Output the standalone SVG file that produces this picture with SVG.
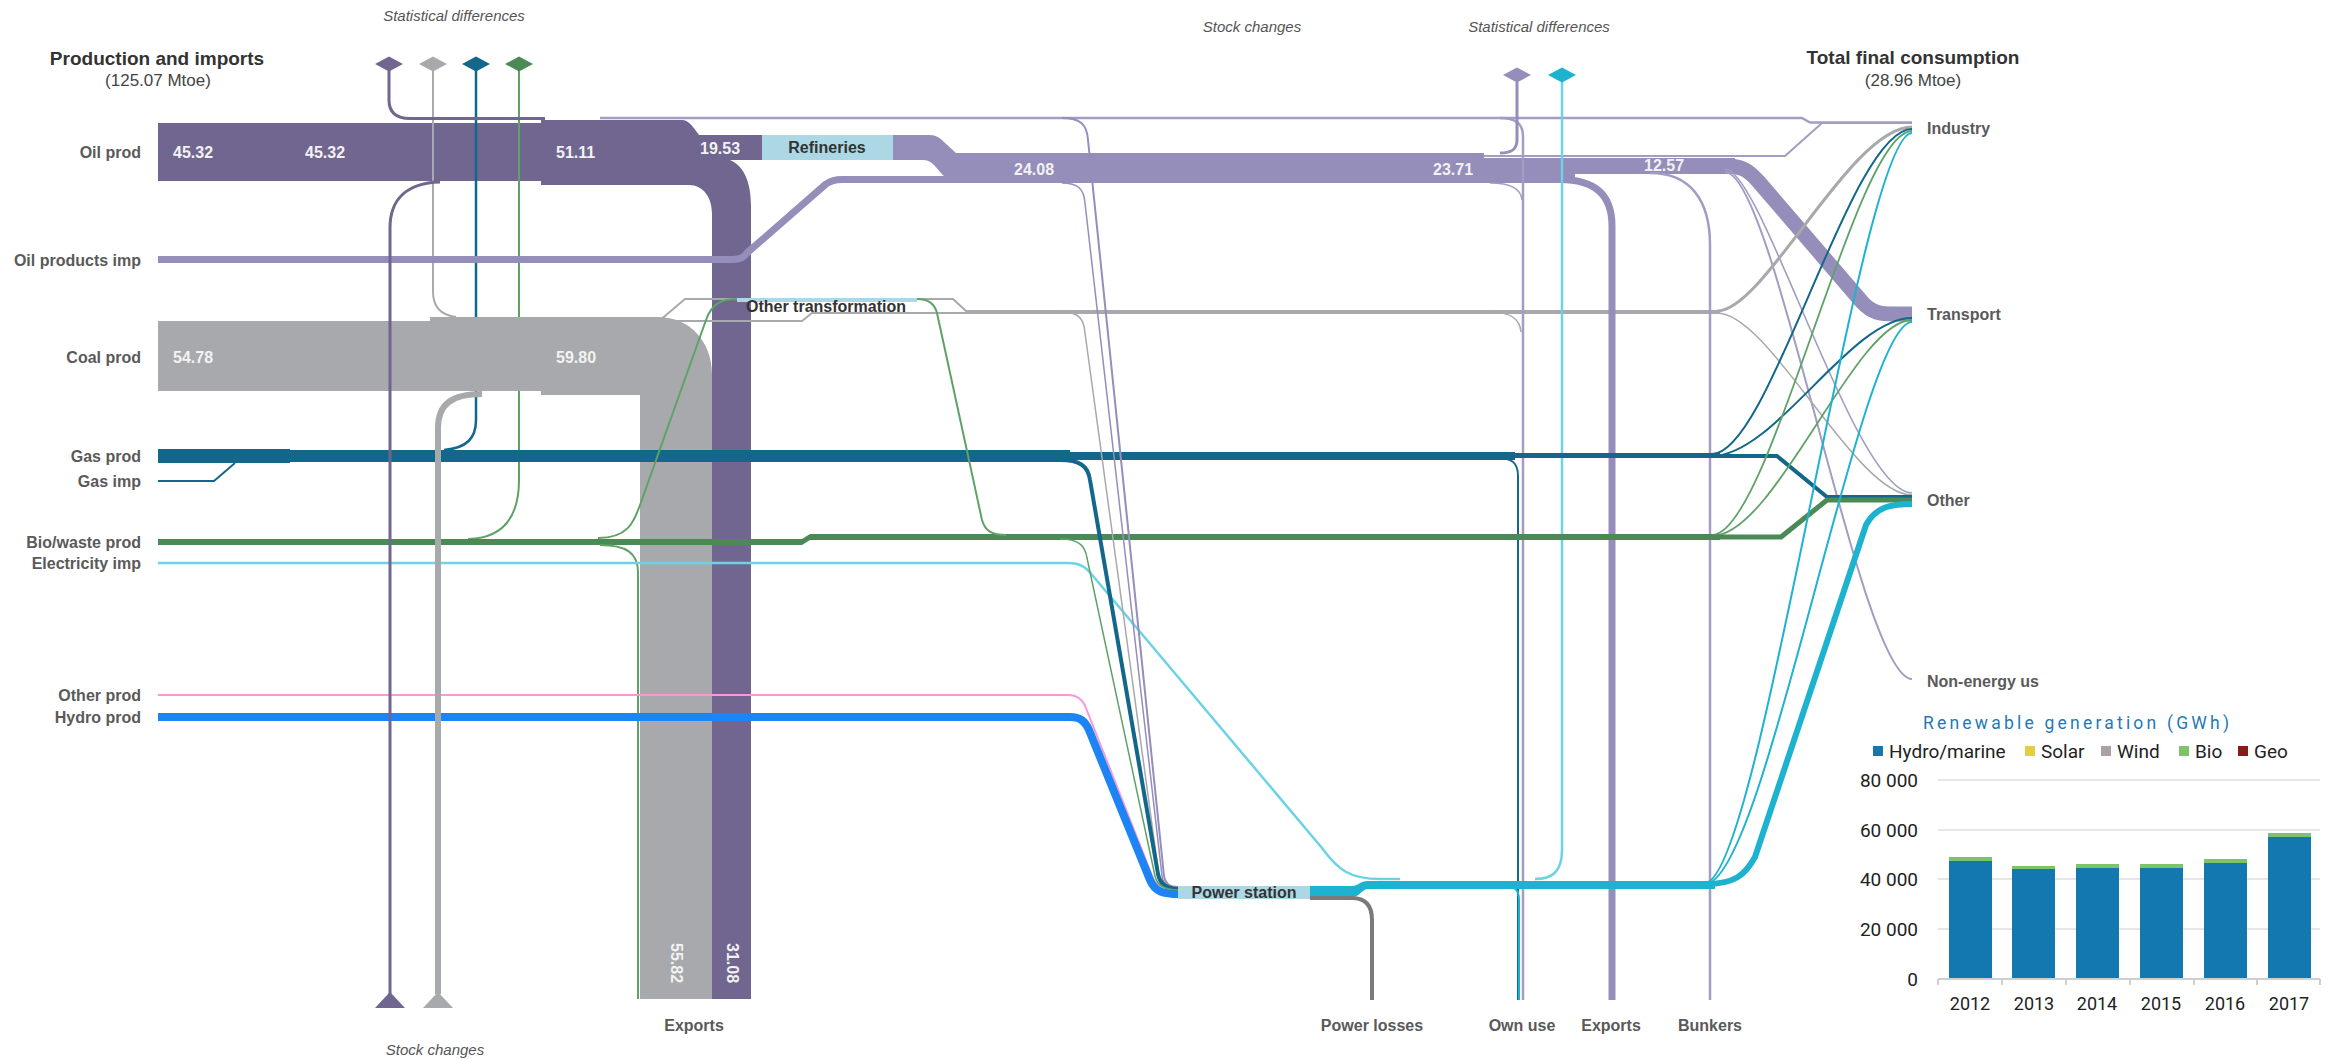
<svg xmlns="http://www.w3.org/2000/svg" width="2328" height="1059" viewBox="0 0 2328 1059">
<style>
  text { font-family: "Liberation Sans", Arial, sans-serif; }
  .lbl { font-size: 16px; font-weight: bold; fill: #5a5a5a; }
  .end { text-anchor: end; }
  .mid { text-anchor: middle; }
  .ttl { font-size: 19px; font-weight: bold; fill: #333; text-anchor: middle; }
  .sub { font-size: 17px; fill: #444; text-anchor: middle; }
  .ital { font-size: 15px; font-style: italic; fill: #555; text-anchor: middle; }
  .val { font-size: 16px; font-weight: bold; fill: #f2f2f2; }
  .node { font-size: 16px; font-weight: bold; fill: #333; text-anchor: middle; }
  .f { fill: none; stroke-linejoin: round; }
  .oil { stroke: #70668f; }
  .oilp { stroke: #958dba; }
  .oilt { stroke: #a39cc3; }
  .coal { stroke: #a8a9ac; }
  .gas { stroke: #13678a; }
  .bio { stroke: #4b8a55; }
  .biot { stroke: #5fa267; }
  .elec { stroke: #1db3d0; }
  .eimp { stroke: #6cd2e6; }
  .hydro { stroke: #1d84f5; }
  .pink { stroke: #f49ad6; }
  .nodebox { fill: #acd8e6; }
  .chart text { font-family: Roboto, "Liberation Sans", sans-serif; fill: #222; }
  .grid { stroke: #e6e6e6; stroke-width: 2; }
</style>

<!-- headings -->
<g id="headings">
  <text class="ttl" x="157" y="65">Production and imports</text>
  <text class="sub" x="158" y="86">(125.07 Mtoe)</text>
  <text class="ttl" x="1913" y="64">Total final consumption</text>
  <text class="sub" x="1913" y="86">(28.96 Mtoe)</text>
  <text class="ital" x="454" y="21">Statistical differences</text>
  <text class="ital" x="1252" y="32">Stock  changes</text>
  <text class="ital" x="1539" y="32">Statistical differences</text>
  <text class="ital" x="435" y="1055">Stock changes</text>
</g>

<!-- flows -->
<g id="connectors">
  <!-- crude oil: production band, split to refineries and exports -->
  <path fill="#70668f" d="M158,123 H541 V120 H682 C689,120 693,127 699,135 H762 V160 H730 C744,166 751,182 751,206 V999 H712 V214 C712,197 703,185 689,185 H541 V181 H158 Z"/>

  <!-- statistical-difference feeders (run beneath the coal band) -->
  <path class="f coal" stroke-width="2" d="M433,70 V292 C433,306 440,315 456,317"/>
  <path class="f gas" stroke-width="2.5" d="M476,70 V420 C476,438 467,448 444,450"/>
  <path class="f biot" stroke-width="2" d="M519,70 V480 C519,515 505,538 468,539"/>

  <!-- coal: production band and exports -->
  <path fill="#a8a9ac" d="M158,321 H430 V317 H658 C690,317 712,342 712,374 V999 H640 V395 H541 V391 H158 Z"/>

  <!-- oil statistical difference and top thin oil line -->
  <path class="f oil" stroke-width="3" d="M389,70 V100 C389,112 396,118.5 410,118.5 H545"/>
  <path class="f oilt" stroke-width="2.5" d="M600,118 H1802 L1810,122.5 H1912"/>

  <!-- coal to other transformation (outlined) -->
  <path class="f coal" stroke-width="2" d="M610,318.5 H662 L685,299 H953 L966,311 H1720"/>
  <path class="f coal" stroke-width="2" d="M662,321 H802 L812,313 H1720"/>

  <!-- oil products: imports and refinery output -->
  <path class="f oilp" stroke-width="7" d="M158,259.5 H733 C741,259.5 744,257 748,252 L826,184 C831,180.5 835,179.5 842,179.5 H960"/>
  <path fill="#958dba" d="M893,135 H930 C936,135 940,138 944,142 L956,153 H1484 V158 H1735 V174 H1575 V183 H950 L934,165 C930,161 927,160 922,160 H893 Z"/>
  <path class="f oilp" stroke-width="7" d="M1560,179.5 C1595,179.5 1612,195 1612,226 V1000"/>
  <path class="f oilp" stroke-width="15" d="M1725,166 C1742,166 1748,170 1758,181 L1862,302 C1872,313 1880,314 1895,314 H1912"/>
  <path class="f oilt" stroke-width="2" d="M1484,156 H1785 L1822,123 H1912"/>
  <path class="f oilt" stroke-width="2.5" d="M1650,173 C1690,173 1710,200 1710,245 V1000"/>
  <path class="f oilt" stroke-width="1.6" d="M1725,169 C1762,169 1855,493 1912,493"/>
  <path class="f oilt" stroke-width="2" d="M1725,172 C1775,172 1860,679 1912,679"/>

  <!-- own use -->
  <path class="f oilt" stroke-width="2.5" d="M1500,118 C1515,118 1523,123 1523,136 V1000"/>
  <path class="f oilt" stroke-width="1.5" d="M1490,183 C1510,183 1521,188 1522,200"/>
  <path class="f coal" stroke-width="1.5" d="M1490,312 C1510,312 1520,318 1521,332"/>
  <path class="f gas" stroke-width="2" d="M1498,458 C1512,458 1518,463 1518,476 V1000"/>

  <!-- right-hand statistical differences -->
  <path class="f oilp" stroke-width="3" d="M1517,82 V140 C1517,149 1512,153 1500,153"/>
  <path class="f eimp" stroke-width="2.5" d="M1562,82 V850 C1562,872 1552,879 1535,879"/>

  <!-- gas -->
  <path fill="#13678a" d="M158,449 H290 V450 H1070 V452 H1515 V453 H1720 V458 H1515 V460 H1070 V462 H290 V463 H158 Z"/>
  <path class="f gas" stroke-width="2" d="M158,481 H214 L235,463"/>

  <!-- bio/waste -->
  <path fill="#4b8a55" d="M158,539 H802 L810,534 H1720 V540 H810 L802,545 H158 Z"/>
  <path class="f biot" stroke-width="2" d="M600,545 C626,545 638,553 638,572 V999"/>
  <path class="f biot" stroke-width="2" d="M598,538 C628,538 634,522 640,505 L706,320 C712,303 722,299 737,299"/>
  <path class="f biot" stroke-width="2" d="M917,299 C930,299 935,305 937,313 L982,520 C985,531 992,535 1006,535"/>

  <!-- electricity imports -->
  <path class="f eimp" stroke-width="2.5" d="M158,563 H1068 C1080,563 1086,567 1093,576 L1322,848 C1338,870 1350,879 1380,879 H1400"/>

  <!-- other and hydro production -->
  <path class="f pink" stroke-width="2" d="M158,695 H1068 C1078,695 1083,700 1086,708 L1153,878 C1156,886 1164,889 1178,889"/>
  <path class="f hydro" stroke-width="8" d="M158,717 H1070 C1080,717 1085,721 1089,730 L1150,880 C1155,892 1163,894 1180,894"/>

  <!-- inputs into the power station -->
  <path class="f oilp" stroke-width="2" d="M1062,118 C1080,118 1087,124 1088,140 L1164,876 C1165,884 1170,887 1178,887"/>
  <path class="f oilp" stroke-width="1.5" d="M1062,183 C1078,183 1084,189 1085,203 L1162,876 C1163,884 1168,888 1178,888"/>
  <path class="f coal" stroke-width="1.5" d="M1062,312 C1078,312 1084,318 1085,333 L1159,876 C1160,884 1166,888 1178,888"/>
  <path class="f gas" stroke-width="4" d="M1060,460 C1080,460 1088,466 1090,480 L1158,874 C1160,884 1166,889 1178,889"/>
  <path class="f biot" stroke-width="1.5" d="M1060,539 C1078,539 1085,545 1087,558 L1155,876 C1157,885 1164,890 1178,890"/>

  <!-- power station outputs -->
  <path fill="#1db3d0" d="M1310,886 H1352 C1358,886 1360,881 1368,881 H1715 V889 H1368 C1362,889 1360,897 1352,897 H1310 Z"/>
  <path class="f" stroke="#7a7a7a" stroke-width="4" d="M1310,898 H1352 C1366,898 1372,906 1372,920 V1000"/>
  <path class="f elec" stroke-width="2" d="M1505,886 C1515,886 1519,890 1519,900 V1000"/>

  <!-- stock changes -->
  <path class="f oil" stroke-width="3" d="M440,182 C406,183 390,200 390,228 V994"/>
  <path class="f coal" stroke-width="6" d="M482,394 C452,394 438,404 438,428 V994"/>

  <!-- final consumption fan -->
  <path class="f coal" stroke-width="3" d="M1717,311 C1765,311 1850,127 1912,127"/>
  <path class="f coal" stroke-width="1.5" d="M1717,313 C1770,313 1855,495 1912,495"/>
  <path class="f gas" stroke-width="2" d="M1712,454 C1770,454 1850,129 1912,129"/>
  <path class="f gas" stroke-width="2" d="M1712,456 C1775,456 1850,318 1912,318"/>
  <path class="f gas" stroke-width="4" d="M1712,456 H1777 L1827,497 H1912"/>
  <path class="f biot" stroke-width="1.8" d="M1712,535 C1770,535 1855,131 1912,131"/>
  <path class="f biot" stroke-width="1.8" d="M1712,536 C1775,536 1855,320 1912,320"/>
  <path class="f bio" stroke-width="5" d="M1712,537 H1781 L1827,500 H1912"/>
  <path class="f elec" stroke-width="2" d="M1705,883 C1760,883 1860,133 1912,133"/>
  <path class="f elec" stroke-width="2" d="M1705,884 C1765,884 1860,322 1912,322"/>
  <path class="f elec" stroke-width="6" d="M1705,884 C1735,884 1745,875 1755,857 L1866,525 C1876,507 1890,504 1912,504"/>
</g>

<!-- statistical difference markers -->
<g id="stat-diff-left">
  <polygon fill="#70668f" points="375,64 389,56.5 403,64 389,71.5"/>
  <polygon fill="#a8a9ac" points="419,64 433,56.5 447,64 433,71.5"/>
  <polygon fill="#13678a" points="462,64 476,56.5 490,64 476,71.5"/>
  <polygon fill="#4b8a55" points="505,64 519,56.5 533,64 519,71.5"/>
</g>
<g id="stat-diff-right">
  <polygon fill="#958dba" points="1503,75 1517,67.5 1531,75 1517,82.5"/>
  <polygon fill="#1db3d0" points="1548,75 1562,67.5 1576,75 1562,82.5"/>
</g>
<g id="stock-changes-markers">
  <polygon fill="#70668f" points="390,992 375,1008 405,1008"/>
  <polygon fill="#a8a9ac" points="438,992 423,1008 453,1008"/>
</g>

<!-- sources -->
<g id="src-oil"><text class="lbl end" x="141" y="158">Oil prod</text></g>
<g id="src-oil-products"><text class="lbl end" x="141" y="266">Oil products imp</text></g>
<g id="src-coal"><text class="lbl end" x="141" y="363">Coal prod</text></g>
<g id="src-gas"><text class="lbl end" x="141" y="462">Gas prod</text></g>
<g id="src-gas-imp"><text class="lbl end" x="141" y="487">Gas imp</text></g>
<g id="src-bio"><text class="lbl end" x="141" y="548">Bio/waste prod</text></g>
<g id="src-elec-imp"><text class="lbl end" x="141" y="569">Electricity imp</text></g>
<g id="src-other"><text class="lbl end" x="141" y="701">Other prod</text></g>
<g id="src-hydro"><text class="lbl end" x="141" y="723">Hydro prod</text></g>

<!-- flow values -->
<g id="values">
  <text class="val" x="173" y="158">45.32</text>
  <text class="val" x="305" y="158">45.32</text>
  <text class="val" x="556" y="158">51.11</text>
  <text class="val" x="700" y="154">19.53</text>
  <text class="val" x="173" y="363" fill="#eeeeee">54.78</text>
  <text class="val" x="556" y="363">59.80</text>
  <text class="val" x="1014" y="175">24.08</text>
  <text class="val" x="1433" y="175">23.71</text>
  <text class="val" x="1644" y="171">12.57</text>
  <text class="val mid" transform="translate(676,963) rotate(90)" dy="5">55.82</text>
  <text class="val mid" transform="translate(732,963) rotate(90)" dy="5">31.08</text>
</g>

<!-- transformation nodes -->
<g id="node-refineries">
  <rect class="nodebox" x="762" y="135" width="131" height="25"/>
  <text class="node" x="827" y="153">Refineries</text>
</g>
<g id="node-other-transformation">
  <rect class="nodebox" x="737" y="298" width="180" height="4"/>
  <text class="node" x="826" y="312">Other transformation</text>
</g>
<g id="node-power-station">
  <rect class="nodebox" x="1178" y="886" width="132" height="13"/>
  <text class="node" x="1244" y="898">Power station</text>
</g>

<!-- sinks -->
<g id="sink-exports-left"><text class="lbl mid" x="694" y="1031">Exports</text></g>
<g id="sink-power-losses"><text class="lbl mid" x="1372" y="1031">Power losses</text></g>
<g id="sink-own-use"><text class="lbl mid" x="1522" y="1031">Own use</text></g>
<g id="sink-exports-right"><text class="lbl mid" x="1611" y="1031">Exports</text></g>
<g id="sink-bunkers"><text class="lbl mid" x="1710" y="1031">Bunkers</text></g>
<g id="sink-industry"><text class="lbl" x="1927" y="134">Industry</text></g>
<g id="sink-transport"><text class="lbl" x="1927" y="320">Transport</text></g>
<g id="sink-other"><text class="lbl" x="1927" y="506">Other</text></g>
<g id="sink-non-energy"><text class="lbl" x="1927" y="687">Non-energy us</text></g>

<!-- renewable generation chart -->
<g id="renewables-chart" class="chart">
  <text x="1923" y="729" textLength="306" lengthAdjust="spacing" style="font-size:17.5px;fill:#1f7ab3">Renewable generation (GWh)</text>
  <rect x="1873" y="746" width="10" height="10" fill="#1478b0"/>
  <text x="1889" y="758" style="font-size:19px">Hydro/marine</text>
  <rect x="2025" y="746" width="10" height="10" fill="#e3cf3d"/>
  <text x="2041" y="758" style="font-size:19px">Solar</text>
  <rect x="2101" y="746" width="10" height="10" fill="#a9a1a6"/>
  <text x="2117" y="758" style="font-size:19px">Wind</text>
  <rect x="2179" y="746" width="10" height="10" fill="#7cc36a"/>
  <text x="2195" y="758" style="font-size:19px">Bio</text>
  <rect x="2238" y="746" width="10" height="10" fill="#8b1a1a"/>
  <text x="2254" y="758" style="font-size:19px">Geo</text>

  <line class="grid" x1="1938" y1="780" x2="2320" y2="780"/>
  <line class="grid" x1="1938" y1="830" x2="2320" y2="830"/>
  <line class="grid" x1="1938" y1="879" x2="2320" y2="879"/>
  <line class="grid" x1="1938" y1="929" x2="2320" y2="929"/>

  <g style="font-size:19px" text-anchor="end">
    <text x="1918" y="787">80 000</text>
    <text x="1918" y="837">60 000</text>
    <text x="1918" y="886">40 000</text>
    <text x="1918" y="936">20 000</text>
    <text x="1918" y="986">0</text>
  </g>

  <g id="bars">
    <rect x="1949" y="857" width="43" height="5" fill="#7cc36a"/>
    <rect x="1949" y="861" width="43" height="118" fill="#1478b0"/>
    <rect x="2012" y="866" width="43" height="4" fill="#7cc36a"/>
    <rect x="2012" y="869" width="43" height="110" fill="#1478b0"/>
    <rect x="2076" y="864" width="43" height="5" fill="#7cc36a"/>
    <rect x="2076" y="868" width="43" height="111" fill="#1478b0"/>
    <rect x="2140" y="864" width="43" height="5" fill="#7cc36a"/>
    <rect x="2140" y="868" width="43" height="111" fill="#1478b0"/>
    <rect x="2204" y="859" width="43" height="5" fill="#7cc36a"/>
    <rect x="2204" y="863" width="43" height="116" fill="#1478b0"/>
    <rect x="2268" y="833" width="43" height="5" fill="#7cc36a"/>
    <rect x="2268" y="837" width="43" height="142" fill="#1478b0"/>
  </g>

  <path d="M1938,979 H2320 M1938,979 V985 M2002,979 V985 M2066,979 V985 M2130,979 V985 M2194,979 V985 M2257,979 V985 M2320,979 V985" stroke="#cfcfcf" stroke-width="2" fill="none"/>

  <g style="font-size:18px" text-anchor="middle">
    <text x="1970" y="1010">2012</text>
    <text x="2034" y="1010">2013</text>
    <text x="2097" y="1010">2014</text>
    <text x="2161" y="1010">2015</text>
    <text x="2225" y="1010">2016</text>
    <text x="2289" y="1010">2017</text>
  </g>
</g>
</svg>
